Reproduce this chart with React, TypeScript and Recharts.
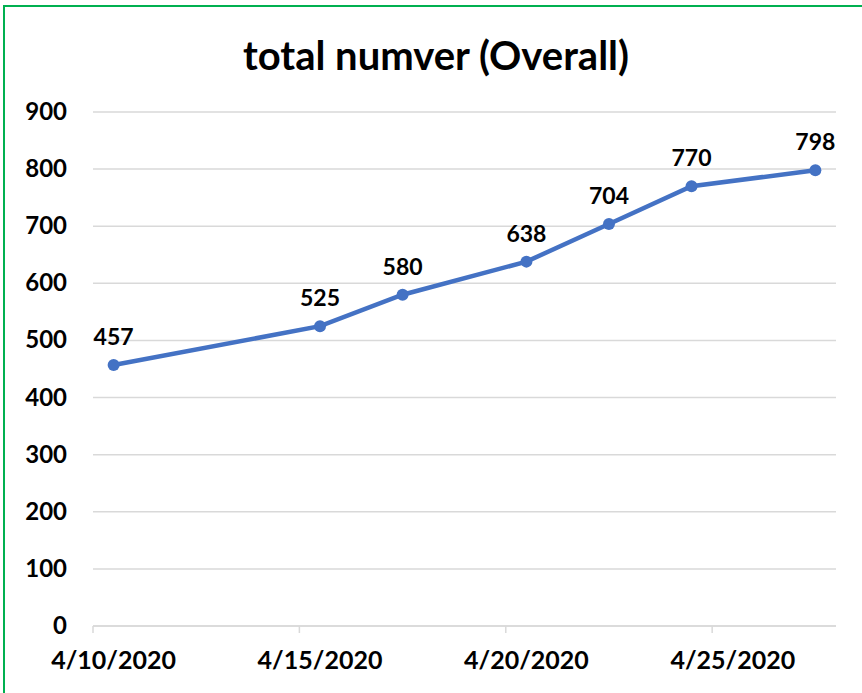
import React from "react";
import { LineChart, Line, XAxis, YAxis, CartesianGrid, LabelList } from "recharts";

const dates = ["4/10/2020", "4/15/2020", "4/17/2020", "4/20/2020", "4/22/2020", "4/24/2020", "4/27/2020"];
const values = [457, 525, 580, 638, 704, 770, 798];
const xTickLabels = ["4/10/2020", "4/15/2020", "4/20/2020", "4/25/2020"];
const yTicks = [0, 100, 200, 300, 400, 500, 600, 700, 800, 900];
const startDate = "4/10/2020";
const endDate = "4/28/2020";

const dayIndex = (s: string) => {
  const [m, d, y] = s.split("/").map(Number);
  const t = Date.UTC(y, m - 1, d);
  const [m0, d0, y0] = startDate.split("/").map(Number);
  return Math.round((t - Date.UTC(y0, m0 - 1, d0)) / 86400000);
};

const data = dates.map((d, i) => ({ x: dayIndex(d) + 0.5, value: values[i] }));
const xTicks = xTickLabels.map(dayIndex);
const labelFor: Record<number, string> = {};
xTickLabels.forEach((l) => (labelFor[dayIndex(l)] = l));

const CHART_W = 862;
const MARGIN = { top: 112, right: 26, bottom: 27, left: 0 };
const Y_AXIS_W = 93;
const PLOT_W = CHART_W - MARGIN.left - MARGIN.right - Y_AXIS_W;
const HALF_DAY = PLOT_W / dayIndex(endDate) / 2;

const FONT = "Lato, 'Open Sans', sans-serif";

const YTick = (props: any) => {
  const { y, payload } = props;
  return (
    <text x={67} y={y} dy={8} textAnchor="end" fontFamily={FONT} fontWeight={700} fontSize={24} fill="#000">
      {payload.value}
    </text>
  );
};

const XTick = (props: any) => {
  const { x, y, payload } = props;
  return (
    <text x={x + HALF_DAY} y={y} dy={34} textAnchor="middle" fontFamily={FONT} fontWeight={700} fontSize={25} fill="#000">
      {labelFor[payload.value]}
    </text>
  );
};

const DataLabel = (props: any) => {
  const { x, y, value } = props;
  return (
    <text x={x} y={y - 20} textAnchor="middle" fontFamily={FONT} fontWeight={700} fontSize={23} fill="#000">
      {value}
    </text>
  );
};

export default function App() {
  return (
    <div style={{ position: "absolute", left: 0, top: 0, width: 862, height: 693, overflow: "hidden", background: "#fff" }}>
      <div
        style={{
          position: "absolute",
          left: 3,
          top: 5,
          width: 880,
          height: 720,
          border: "2px solid #00b050",
          boxSizing: "border-box",
        }}
      />
      <div
        style={{
          position: "absolute",
          left: 0,
          top: 32,
          width: 872,
          textAlign: "center",
          fontFamily: FONT,
          fontWeight: 700,
          fontSize: 40,
          lineHeight: "46px",
          color: "#000",
          whiteSpace: "nowrap",
        }}
      >
        total numver (Overall)
      </div>
      <div style={{ position: "absolute", left: 0, top: 0 }}>
        <LineChart width={CHART_W} height={693} data={data} margin={MARGIN}>
          <CartesianGrid horizontal vertical={false} stroke="#d9d9d9" strokeWidth={1.5} />
          <XAxis
            dataKey="x"
            type="number"
            domain={[0, dayIndex(endDate)]}
            ticks={xTicks}
            interval={0}
            height={40}
            axisLine={{ stroke: "#d9d9d9", strokeWidth: 1.5 }}
            tickLine={{ stroke: "#d9d9d9", strokeWidth: 1.5 }}
            tickSize={7}
            tick={<XTick />}
            allowDataOverflow
          />
          <YAxis
            type="number"
            domain={[0, 900]}
            ticks={yTicks}
            interval={0}
            width={Y_AXIS_W}
            axisLine={false}
            tickLine={false}
            tick={<YTick />}
          />
          <Line
            type="linear"
            dataKey="value"
            stroke="#4472c4"
            strokeWidth={4.5}
            dot={{ r: 6, fill: "#4472c4", stroke: "none" }}
            activeDot={false}
            isAnimationActive={false}
          >
            <LabelList dataKey="value" content={<DataLabel />} />
          </Line>
        </LineChart>
      </div>
    </div>
  );
}
